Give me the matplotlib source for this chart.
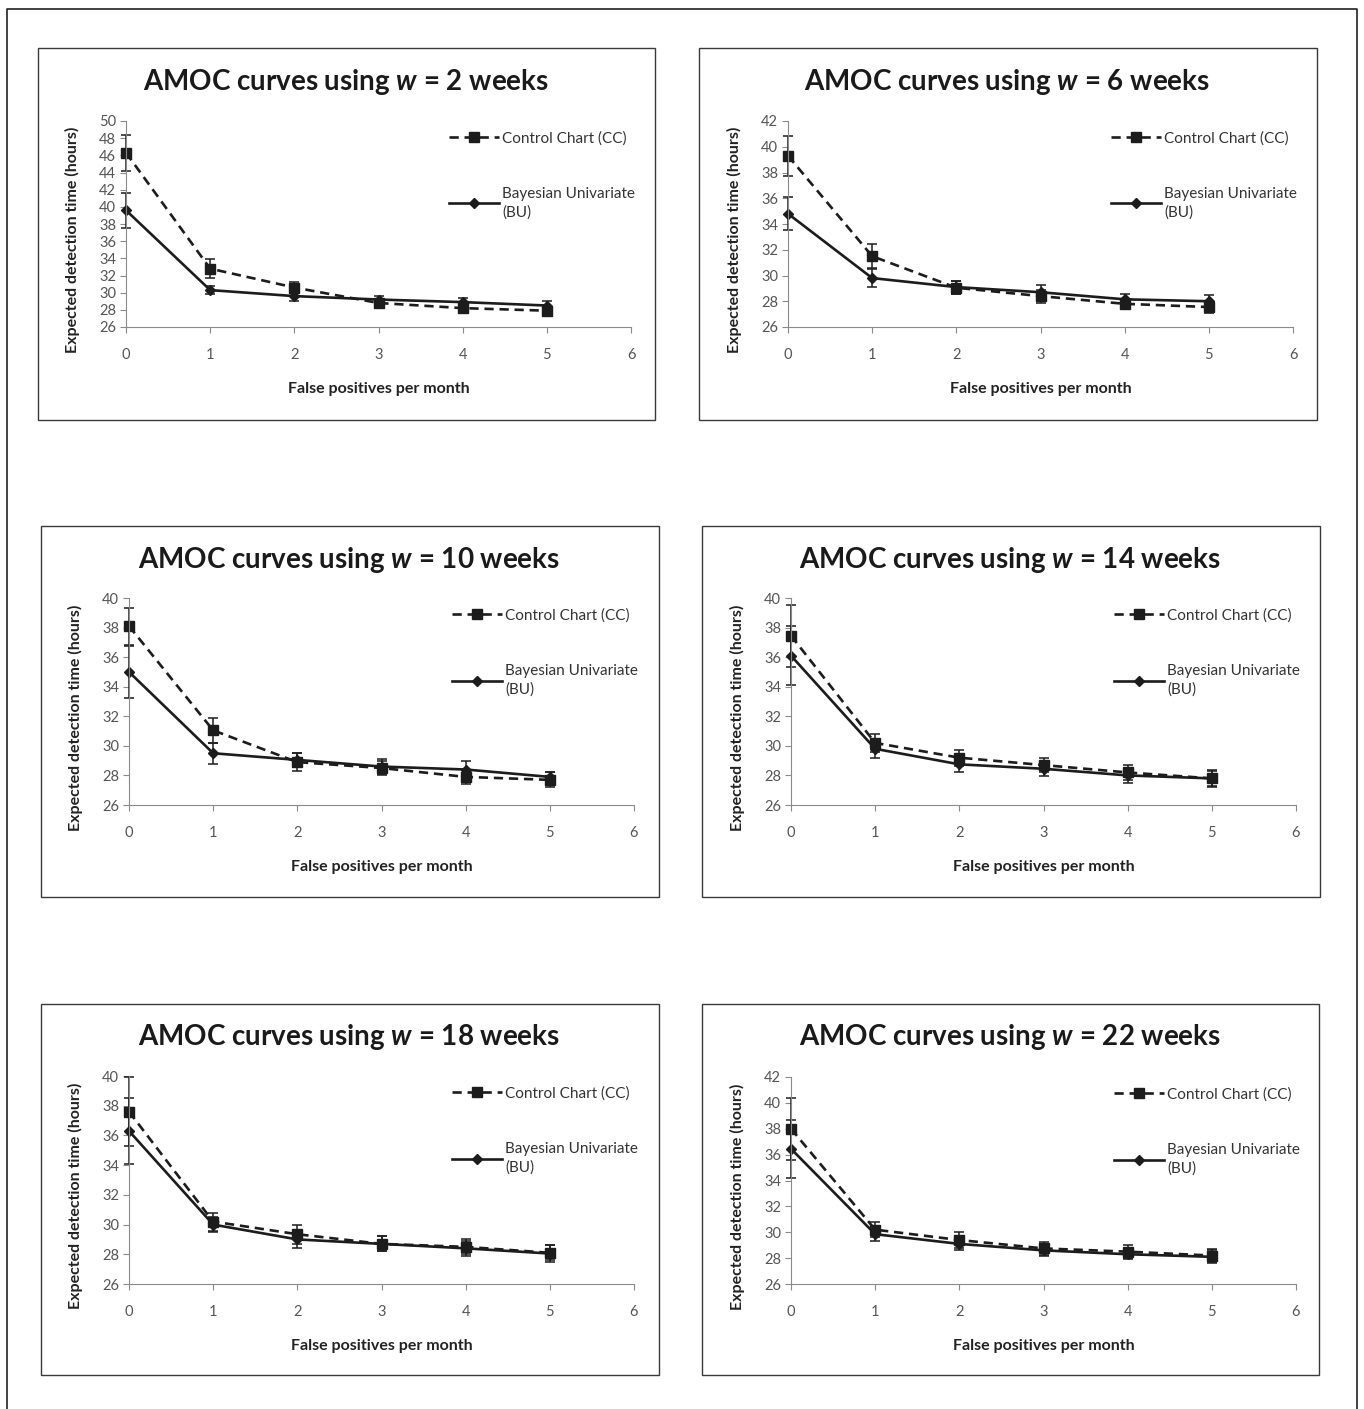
import matplotlib
matplotlib.use("Agg")
import matplotlib.pyplot as plt
from matplotlib.patches import Rectangle
from matplotlib.lines import Line2D

# fonts: Lato stands in for Calibri, w in the titles is bold italic
plt.rcParams['font.family'] = ['Lato', 'DejaVu Sans']
plt.rcParams['mathtext.fontset'] = 'custom'
plt.rcParams['mathtext.it'] = 'Lato:italic:bold'
plt.rcParams['mathtext.rm'] = 'Lato:bold'

# ---- data ----
false_pos = [0, 1, 2, 3, 4, 5]
windows = [2, 6, 10, 14, 18, 22]

cc_w2 = [46.3, 32.8, 30.6, 28.8, 28.2, 27.9]
cc_w2_err = [2.1, 1.1, 0.6, 0.4, 0.5, 0.4]
bu_w2 = [39.6, 30.3, 29.6, 29.2, 28.9, 28.5]
bu_w2_err = [2.05, 0.5, 0.6, 0.4, 0.5, 0.5]

cc_w6 = [39.3, 31.5, 29.05, 28.4, 27.8, 27.55]
cc_w6_err = [1.55, 0.95, 0.5, 0.5, 0.4, 0.5]
bu_w6 = [34.8, 29.8, 29.1, 28.7, 28.15, 28.0]
bu_w6_err = [1.3, 0.7, 0.5, 0.6, 0.4, 0.5]

cc_w10 = [38.1, 31.05, 28.9, 28.5, 27.9, 27.7]
cc_w10_err = [1.25, 0.85, 0.6, 0.5, 0.5, 0.5]
bu_w10 = [35.0, 29.5, 29.05, 28.6, 28.4, 27.9]
bu_w10_err = [1.75, 0.7, 0.5, 0.5, 0.6, 0.3]

cc_w14 = [37.45, 30.2, 29.2, 28.7, 28.2, 27.8]
cc_w14_err = [2.1, 0.6, 0.55, 0.5, 0.5, 0.55]
bu_w14 = [36.1, 29.8, 28.75, 28.45, 28.0, 27.8]
bu_w14_err = [2.0, 0.6, 0.5, 0.5, 0.5, 0.5]

cc_w18 = [37.6, 30.2, 29.35, 28.7, 28.5, 28.1]
cc_w18_err = [2.3, 0.6, 0.65, 0.5, 0.5, 0.5]
bu_w18 = [36.3, 30.0, 29.0, 28.7, 28.4, 28.05]
bu_w18_err = [2.2, 0.5, 0.6, 0.5, 0.5, 0.6]

cc_w22 = [38.0, 30.2, 29.4, 28.75, 28.5, 28.2]
cc_w22_err = [2.4, 0.6, 0.6, 0.5, 0.5, 0.5]
bu_w22 = [36.45, 29.85, 29.1, 28.6, 28.3, 28.1]
bu_w22_err = [2.25, 0.5, 0.5, 0.4, 0.4, 0.5]

y_tops = [50, 42, 40, 40, 40, 42]

cc_all = [cc_w2, cc_w6, cc_w10, cc_w14, cc_w18, cc_w22]
cc_err_all = [cc_w2_err, cc_w6_err, cc_w10_err, cc_w14_err, cc_w18_err, cc_w22_err]
bu_all = [bu_w2, bu_w6, bu_w10, bu_w14, bu_w18, bu_w22]
bu_err_all = [bu_w2_err, bu_w6_err, bu_w10_err, bu_w14_err, bu_w18_err, bu_w22_err]

# ---- layout in pixels (x0, y0, x1, y1), origin top left ----
W, H = 1364, 1409
axes_px = [(126, 121, 631, 327), (788, 121, 1293, 327),
           (129, 598, 634, 805), (791, 598, 1296, 805),
           (129, 1076, 634, 1284), (791, 1077, 1296, 1284)]
boxes_px = [(38, 48, 655, 420), (699, 48, 1317, 420),
            (41, 526, 659, 897), (702, 526, 1320, 897),
            (41, 1004, 659, 1375), (702, 1004, 1319, 1375)]
titles_px = [(346, 82), (1007, 82), (349, 560), (1010, 560), (349, 1037), (1010, 1037)]


def to_fig(x0, y0, x1, y1):
    return [x0 / W, 1 - y1 / H, (x1 - x0) / W, (y1 - y0) / H]


fig = plt.figure(figsize=(W / 100, H / 100), dpi=100)
fig.patch.set_facecolor('white')

# outer frame (no bottom edge, it is cut off in the scan)
fig.add_artist(Line2D([7 / W, 7 / W, 1357 / W, 1357 / W], [0, 1 - 9 / H, 1 - 9 / H, 0],
                      transform=fig.transFigure, color='#222222', lw=1.2))

line_col = '#1c1c1c'
dash = (0, (3.5, 2.2))
for i in range(6):
    bx = boxes_px[i]
    fig.add_artist(Rectangle((bx[0] / W, 1 - bx[3] / H), (bx[2] - bx[0]) / W, (bx[3] - bx[1]) / H,
                             transform=fig.transFigure, fill=False, ec='#3a3a3a', lw=1.0))

    ax = fig.add_axes(to_fig(*axes_px[i]))
    for series, err, ls, mk, ms in [(cc_all[i], cc_err_all[i], dash, 's', 6.5),
                                    (bu_all[i], bu_err_all[i], '-', 'D', 5.5)]:
        eb = ax.errorbar(false_pos, series, yerr=err, color=line_col, ls=ls, lw=1.9,
                         marker=mk, ms=ms, capsize=3.5, elinewidth=1.1, capthick=1.1)
        for art in eb.lines[1] + eb.lines[2] + (eb.lines[0],):
            art.set_clip_on(False)

    ax.set_xlim(0, 6)
    ax.set_ylim(26, y_tops[i])
    ax.set_xticks(range(0, 7))
    ax.set_yticks(range(26, y_tops[i] + 1, 2))
    for s in ['top', 'right']:
        ax.spines[s].set_visible(False)
    for s in ['left', 'bottom']:
        ax.spines[s].set_color('#8a8a8a')
        ax.spines[s].set_linewidth(0.8)
    ax.tick_params(direction='out', length=4, width=0.8, color='#8a8a8a', labelcolor='#555555', labelsize=10.5)
    ax.tick_params(axis='x', pad=11)
    ax.tick_params(axis='y', pad=3)

    x0, y0, x1, y1 = axes_px[i]
    ax.set_xlabel('False positives per month', fontsize=11.5, fontweight='bold', color='#222222')
    ax.xaxis.set_label_coords(0.5, -(389 - 327) / (y1 - y0))
    ax.xaxis.label.set_va('center')
    ax.set_ylabel('Expected detection time (hours)', fontsize=11.5, fontweight='bold', color='#222222')
    ax.yaxis.set_label_coords(-(126 - 72) / (x1 - x0), 0.5 - 16 / (y1 - y0))
    ax.yaxis.label.set_va('center')

    handles = [Line2D([], [], color=line_col, ls=dash, lw=1.9, marker='s', ms=6.5),
               Line2D([], [], color=line_col, ls='-', lw=1.9, marker='D', ms=5.5)]
    leg = ax.legend(handles, ['Control Chart (CC)', 'Bayesian Univariate\n(BU)'],
                    loc='upper left', bbox_to_anchor=((449 - 126) / 505, 1 - 10 / 206), frameon=False,
                    borderpad=0, borderaxespad=0, handlelength=3.3, handletextpad=0.2,
                    labelspacing=2.7, fontsize=11, labelcolor='#333333')
    for t in leg.get_texts():
        t.set_linespacing(1.45)

    cx, cy = titles_px[i]
    fig.text(cx / W, 1 - cy / H, r'AMOC curves using $w$ = %d weeks' % windows[i],
             ha='center', va='center', fontsize=20, fontweight='bold', color='#1a1a1a')

plt.savefig('out.png', dpi=100)
